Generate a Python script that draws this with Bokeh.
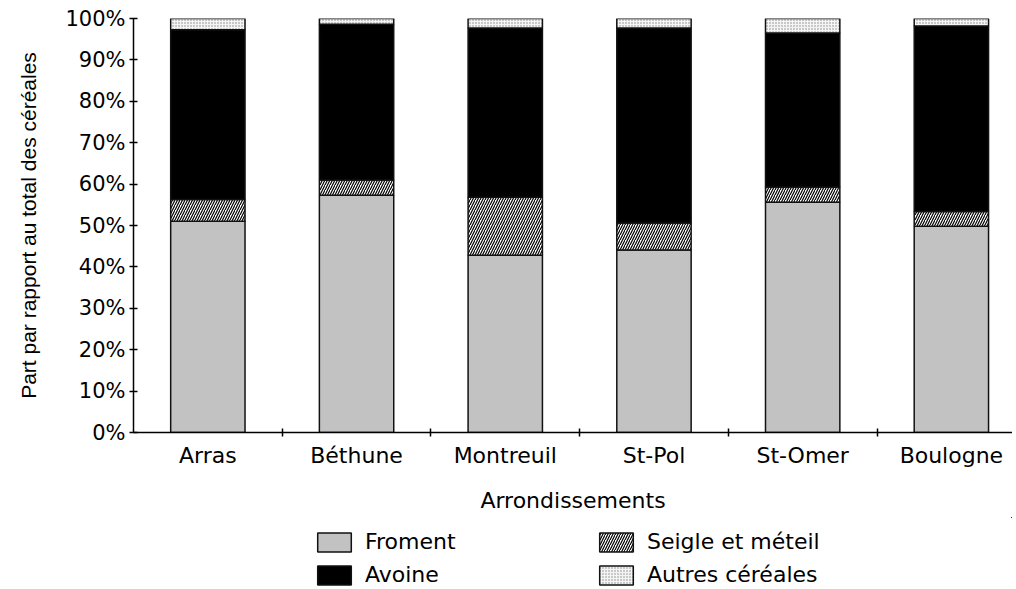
from bokeh.plotting import figure
from bokeh.layouts import column
from bokeh.models import (ColumnDataSource, Range1d, FixedTicker, PrintfTickFormatter,
                          CustomJSTickFormatter, Legend, LegendItem)
from bokeh.embed import file_html
from bokeh.resources import INLINE

# ---- data (shares of total cereals, %) ----
arrondissements = ["Arras", "Béthune", "Montreuil", "St-Pol", "St-Omer", "Boulogne"]
froment = [51.0, 57.3, 42.8, 44.1, 55.6, 49.8]
seigle = [5.3, 3.7, 14.0, 6.5, 3.7, 3.6]
avoine = [41.0, 37.6, 40.9, 47.1, 37.2, 44.8]
autres = [2.7, 1.4, 2.3, 2.3, 3.5, 1.8]
series_labels = ["Froment", "Seigle et méteil", "Avoine", "Autres céréales"]
y_ticks = [0, 10, 20, 30, 40, 50, 60, 70, 80, 90, 100]

FONT = "DejaVu Sans"

n = len(arrondissements)
x_pos = [i + 0.5 for i in range(n)]
series = [froment, seigle, avoine, autres]
data = dict(x=x_pos)
bottom = [0.0] * n
for k, vals in enumerate(series):
    top = [b + v for b, v in zip(bottom, vals)]
    data[f"b{k}"] = bottom
    data[f"t{k}"] = top
    bottom = top
source = ColumnDataSource(data)

p = figure(width=1012, height=517, x_range=Range1d(0, 5.911), y_range=Range1d(0, 100),
           output_backend="svg", toolbar_location=None,
           min_border_left=133, min_border_right=0, min_border_top=18, min_border_bottom=85)
p.outline_line_color = None
p.xgrid.visible = False
p.ygrid.visible = False

styles = [
    dict(fill_color="#c2c2c2"),
    dict(fill_color="white", hatch_pattern="/", hatch_color="black", hatch_scale=5, hatch_weight=1.2),
    dict(fill_color="black"),
    dict(fill_color="#f4f4f4", hatch_pattern=".", hatch_color="#8a8a8a", hatch_scale=3, hatch_weight=0.7),
]
for k, st in enumerate(styles):
    p.vbar(x="x", width=0.5, bottom=f"b{k}", top=f"t{k}", source=source,
           line_color="#111111", line_width=1.5, **st)

# y axis
ya = p.yaxis[0]
ya.ticker = FixedTicker(ticks=y_ticks, minor_ticks=[])
ya.formatter = PrintfTickFormatter(format="%d%%")
ya.major_tick_in = 4
ya.major_tick_out = 4
ya.major_tick_line_width = 1.5
ya.axis_line_width = 1.5
ya.major_label_text_font = FONT
ya.major_label_text_font_size = "21px"
ya.major_label_text_color = "black"
ya.major_label_standoff = 4
ya.axis_label = "Part par rapport au total des céréales"
ya.axis_label_text_font = "Liberation Sans"
ya.axis_label_text_font_size = "21px"
ya.axis_label_text_font_style = "normal"
ya.axis_label_text_color = "black"
ya.axis_label_standoff = 22

# x axis
xa = p.xaxis[0]
xa.ticker = FixedTicker(ticks=x_pos, minor_ticks=list(range(1, n)))
xa.formatter = CustomJSTickFormatter(args=dict(names=arrondissements),
                                     code="return names[Math.floor(tick)];")
xa.major_tick_line_color = None
xa.minor_tick_in = 4
xa.minor_tick_out = 4
xa.minor_tick_line_width = 1.5
xa.minor_tick_line_color = "black"
xa.axis_line_width = 1.5
xa.major_label_text_font = FONT
xa.major_label_text_font_size = "22px"
xa.major_label_text_color = "black"
xa.major_label_standoff = 4
xa.axis_label = "Arrondissements"
xa.axis_label_text_font = FONT
xa.axis_label_text_font_size = "22px"
xa.axis_label_text_font_style = "normal"
xa.axis_label_text_color = "black"
xa.axis_label_standoff = 17

# legend in a strip below the chart (proxy renderers share the data but sit outside the view)
lf = figure(width=1012, height=70, x_range=Range1d(-20, -19), y_range=Range1d(-20, -19),
            output_backend="svg", toolbar_location=None, x_axis_type=None, y_axis_type=None,
            min_border_left=0, min_border_right=0, min_border_top=0, min_border_bottom=0)
lf.outline_line_color = None
lf.xgrid.visible = False
lf.ygrid.visible = False
proxies = []
for k, st in enumerate(styles):
    proxies.append(lf.vbar(x="x", width=0.5, bottom=f"b{k}", top=f"t{k}", source=source,
                           line_color="#111111", line_width=1.5, **st))

order = [0, 2, 1, 3]
items = [LegendItem(label=series_labels[k], renderers=[proxies[k]]) for k in order]
legend = Legend(items=items, location=(180, 0), ncols=2, orientation="vertical",
                glyph_width=42, glyph_height=24, label_standoff=10, label_width=222,
                spacing=8, padding=0, margin=0, border_line_color=None,
                background_fill_alpha=0, label_text_font=FONT, label_text_font_size="22px",
                label_text_color="black")
lf.add_layout(legend)

open("out.html", "w").write(file_html(column(p, lf), INLINE))
